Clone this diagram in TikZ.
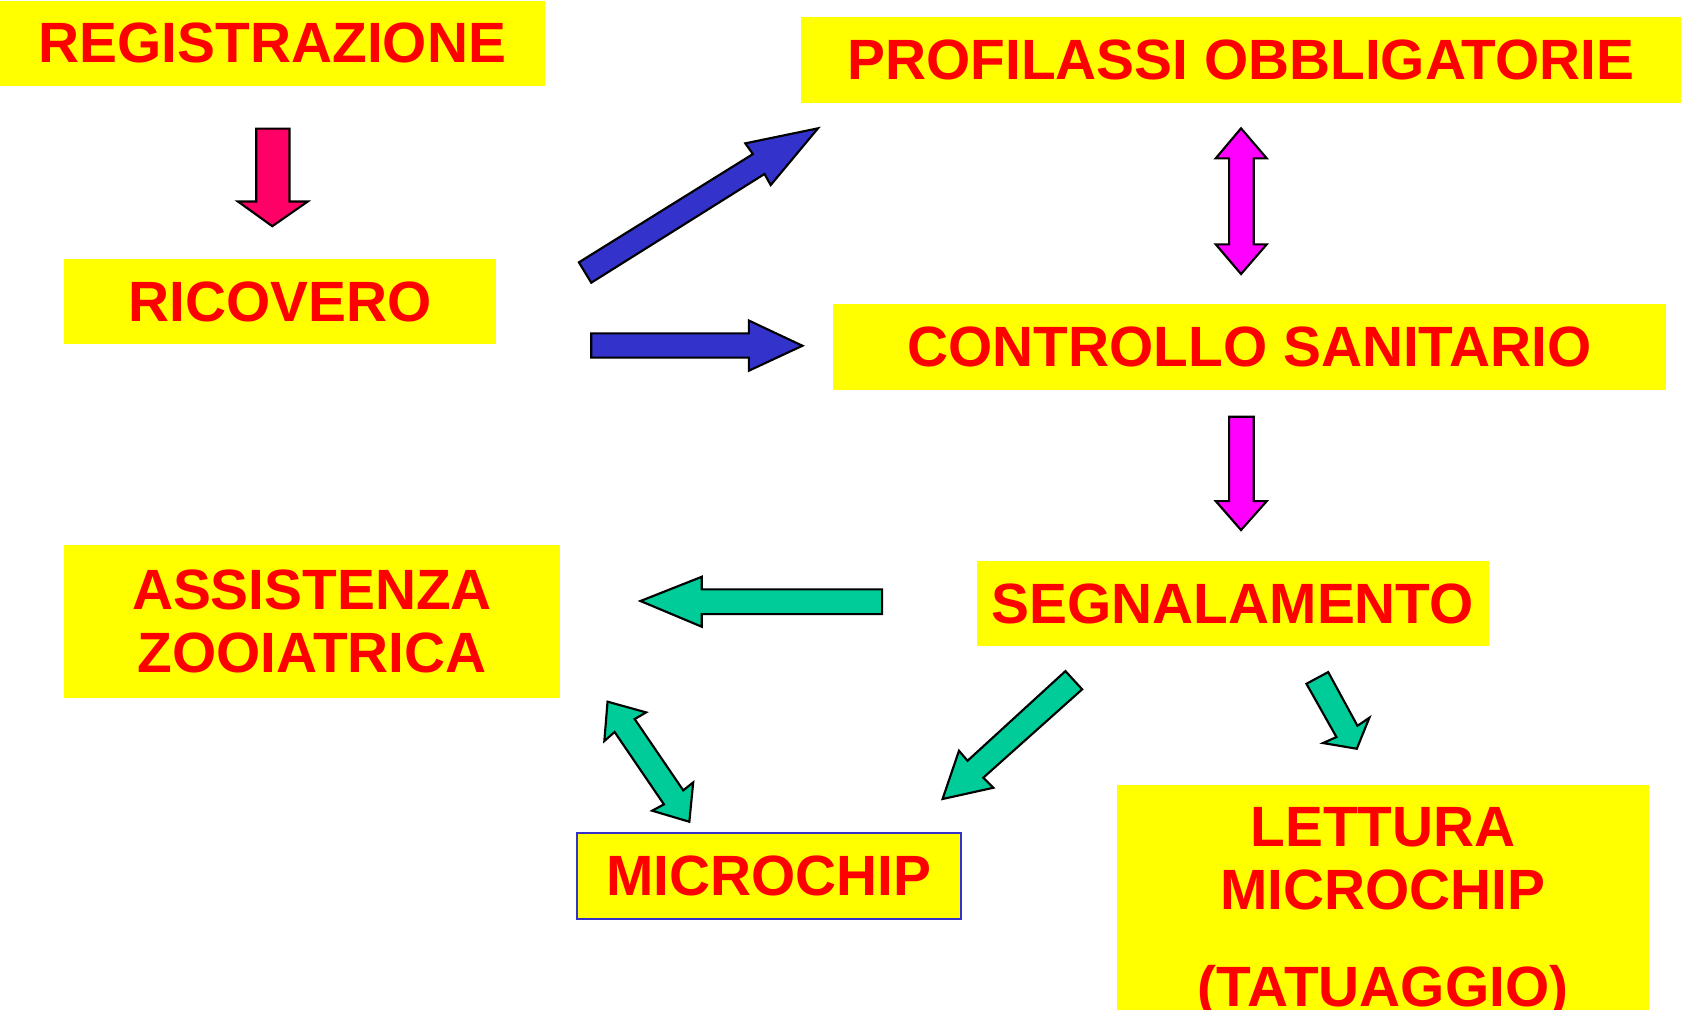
\documentclass[tikz,border=0pt]{standalone}
\usepackage{fontspec}
\setmainfont{Liberation Sans}
\usepackage{tikz}
\usetikzlibrary{}
\definecolor{boxyellow}{HTML}{FFFF00}
\definecolor{arrpink}{HTML}{FF0066}
\definecolor{arrblue}{HTML}{3333CC}
\definecolor{arrmagenta}{HTML}{FF00FF}
\definecolor{arrgreen}{HTML}{00CC99}

\begin{document}
\begin{tikzpicture}[x=0.5pt,y=-0.5pt,
  lbl/.style={text=red,font=\fontsize{26.5}{29.5}\selectfont\bfseries,align=center,inner sep=0pt},
  barrow/.style={draw=black,line width=1pt}]
  \useasboundingbox (0,0) rectangle (1568,942);
  \fill[white] (0,0) rectangle (1568,942);
  \fill[boxyellow] (0,1) rectangle node[lbl] (reg) {REGISTRAZIONE} (508,80);
  \fill[boxyellow] (747,16) rectangle node[lbl] (prof) {PROFILASSI OBBLIGATORIE} (1568,96);
  \fill[boxyellow] (60,242) rectangle node[lbl] (ric) {RICOVERO} (463,321);
  \fill[boxyellow] (777,284) rectangle node[lbl] (contr) {CONTROLLO SANITARIO} (1554,364);
  \fill[boxyellow] (60,508) rectangle node[lbl] (ass) {ASSISTENZA\\ZOOIATRICA} (522,651);
  \fill[boxyellow] (911,523) rectangle node[lbl] (segn) {SEGNALAMENTO} (1389,603);
  \filldraw[fill=boxyellow,draw=arrblue,line width=1pt] (538,777) rectangle node[lbl] (chip) {MICROCHIP} (896,857);
  \fill[boxyellow] (1042,732) rectangle (1538,942);
  \node[lbl,anchor=north] (lett) at (1290,752.5) {LETTURA\\MICROCHIP\\[15.5pt](TATUAGGIO)};
  \filldraw[barrow,fill=arrpink] (239,120) -- (270,120) -- (270,188) -- (287,188) -- (254,211) -- (222,188) -- (239,188) -- cycle;
  \filldraw[barrow,fill=arrblue] (540,244.7) -- (702.3,143.7) -- (695.2,133.7) -- (763,119.7) -- (718.9,172.6) -- (713.1,162.3) -- (551.5,263.7) -- cycle;
  \filldraw[barrow,fill=arrblue] (551.5,311) -- (698.5,311) -- (698.5,299) -- (748.5,322.5) -- (698.5,345.8) -- (698.5,333.6) -- (551.5,333.6) -- cycle;
  \filldraw[barrow,fill=arrmagenta] (1157.6,119.7) -- (1181.6,147.7) -- (1169.5,147.7) -- (1169.5,227.9) -- (1181.6,227.9) -- (1157.6,255.6) -- (1134,227.9) -- (1146.5,227.9) -- (1146.5,147.7) -- (1134,147.7) -- cycle;
  \filldraw[barrow,fill=arrmagenta] (1146.5,388.7) -- (1169.5,388.7) -- (1169.5,467.4) -- (1181.6,467.4) -- (1157.6,494.4) -- (1134,467.4) -- (1146.5,467.4) -- cycle;
  \filldraw[barrow,fill=arrgreen] (597.4,560.6) -- (654.6,538) -- (654.6,549.7) -- (822.8,549.7) -- (822.8,572.8) -- (654.6,572.8) -- (654.6,584.6) -- cycle;
  \filldraw[barrow,fill=arrgreen] (566.7,654.5) -- (602.7,664.5) -- (592,670.7) -- (637.3,737.2) -- (646.6,729.8) -- (643,766.5) -- (608.3,756.2) -- (619.3,750.3) -- (573.3,682.8) -- (563.7,691.2) -- cycle;
  \filldraw[barrow,fill=arrgreen] (993.8,626) -- (1009.4,643) -- (917.2,725.4) -- (926.5,734.8) -- (879.2,745.3) -- (894.5,700.3) -- (902.5,709.6) -- cycle;
  \filldraw[barrow,fill=arrgreen] (1218.6,637.8) -- (1238.9,626.9) -- (1266.2,677) -- (1277.3,669.5) -- (1265.6,698.4) -- (1234.1,693.1) -- (1246.6,687.5) -- cycle;
\end{tikzpicture}
\end{document}
